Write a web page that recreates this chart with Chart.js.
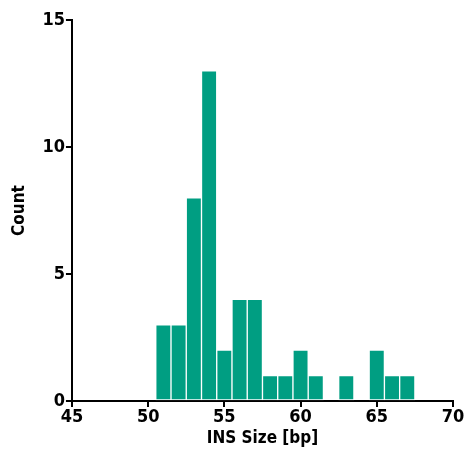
<!DOCTYPE html>
<html>
<head>
<meta charset="utf-8">
<script src="https://cdn.jsdelivr.net/npm/chart.js@4"></script>
<style>
  html, body { margin: 0; padding: 0; background: #fff; }
  #wrap { width: 466px; height: 466px; }
</style>
</head>
<body>
<div id="wrap"><canvas id="chart"></canvas></div>
<script>
// histogram bins (bin centres) and counts
const binCentres = [51, 52, 53, 54, 55, 56, 57, 58, 59, 60, 61, 62, 63, 64, 65, 66, 67];
const counts = [3, 3, 8, 13, 2, 4, 4, 1, 1, 2, 1, 0, 1, 0, 2, 1, 1];
const xTicks = [45, 50, 55, 60, 65, 70];
const yTicks = [0, 5, 10, 15];

const font = "'DejaVu Sans Condensed', 'Liberation Sans Narrow', 'Liberation Sans', sans-serif";

const ctx = document.getElementById("chart").getContext("2d");
new Chart(ctx, {
  type: "bar",
  data: {
    datasets: [
      {
        label: "INS",
        data: binCentres.map((x, i) => ({ x: x, y: counts[i] })),
        backgroundColor: "#009e82",
        borderColor: "#ffffff",
        borderWidth: 1,
        borderSkipped: false,
        barPercentage: 1,
        categoryPercentage: 1,
      },
    ],
  },
  options: {
    responsive: true,
    maintainAspectRatio: false,
    animation: false,
    layout: { padding: { top: 20, right: 13, left: 9, bottom: 17 } },
    plugins: {
      legend: { display: false },
      tooltip: { enabled: false },
    },
    scales: {
      x: {
        type: "linear",
        offset: false,
        min: xTicks[0],
        max: xTicks[xTicks.length - 1],
        afterBuildTicks: (axis) => {
          axis.ticks = xTicks.map((v) => ({ value: v }));
        },
        grid: { drawOnChartArea: false, drawTicks: true, tickLength: 6, color: "#000", lineWidth: 2, offset: false },
        border: { display: true, color: "#000", width: 2 },
        ticks: { color: "#000", font: { family: font, size: 18, weight: "bold" }, padding: 0, maxRotation: 0 },
        title: {
          display: true,
          text: "INS Size [bp]",
          color: "#000",
          font: { family: font, size: 17, weight: "bold" },
          padding: { top: 0, bottom: 0 },
        },
      },
      y: {
        min: yTicks[0],
        max: yTicks[yTicks.length - 1],
        afterBuildTicks: (axis) => {
          axis.ticks = yTicks.map((v) => ({ value: v }));
        },
        grid: { drawOnChartArea: false, drawTicks: true, tickLength: 6, color: "#000", lineWidth: 2 },
        border: { display: true, color: "#000", width: 2 },
        ticks: { color: "#000", font: { family: font, size: 18, weight: "bold" }, padding: 1 },
        title: {
          display: true,
          text: "Count",
          color: "#000",
          font: { family: font, size: 17, weight: "bold" },
          padding: { top: 0, bottom: 12 },
        },
      },
    },
  },
});
</script>
</body>
</html>
